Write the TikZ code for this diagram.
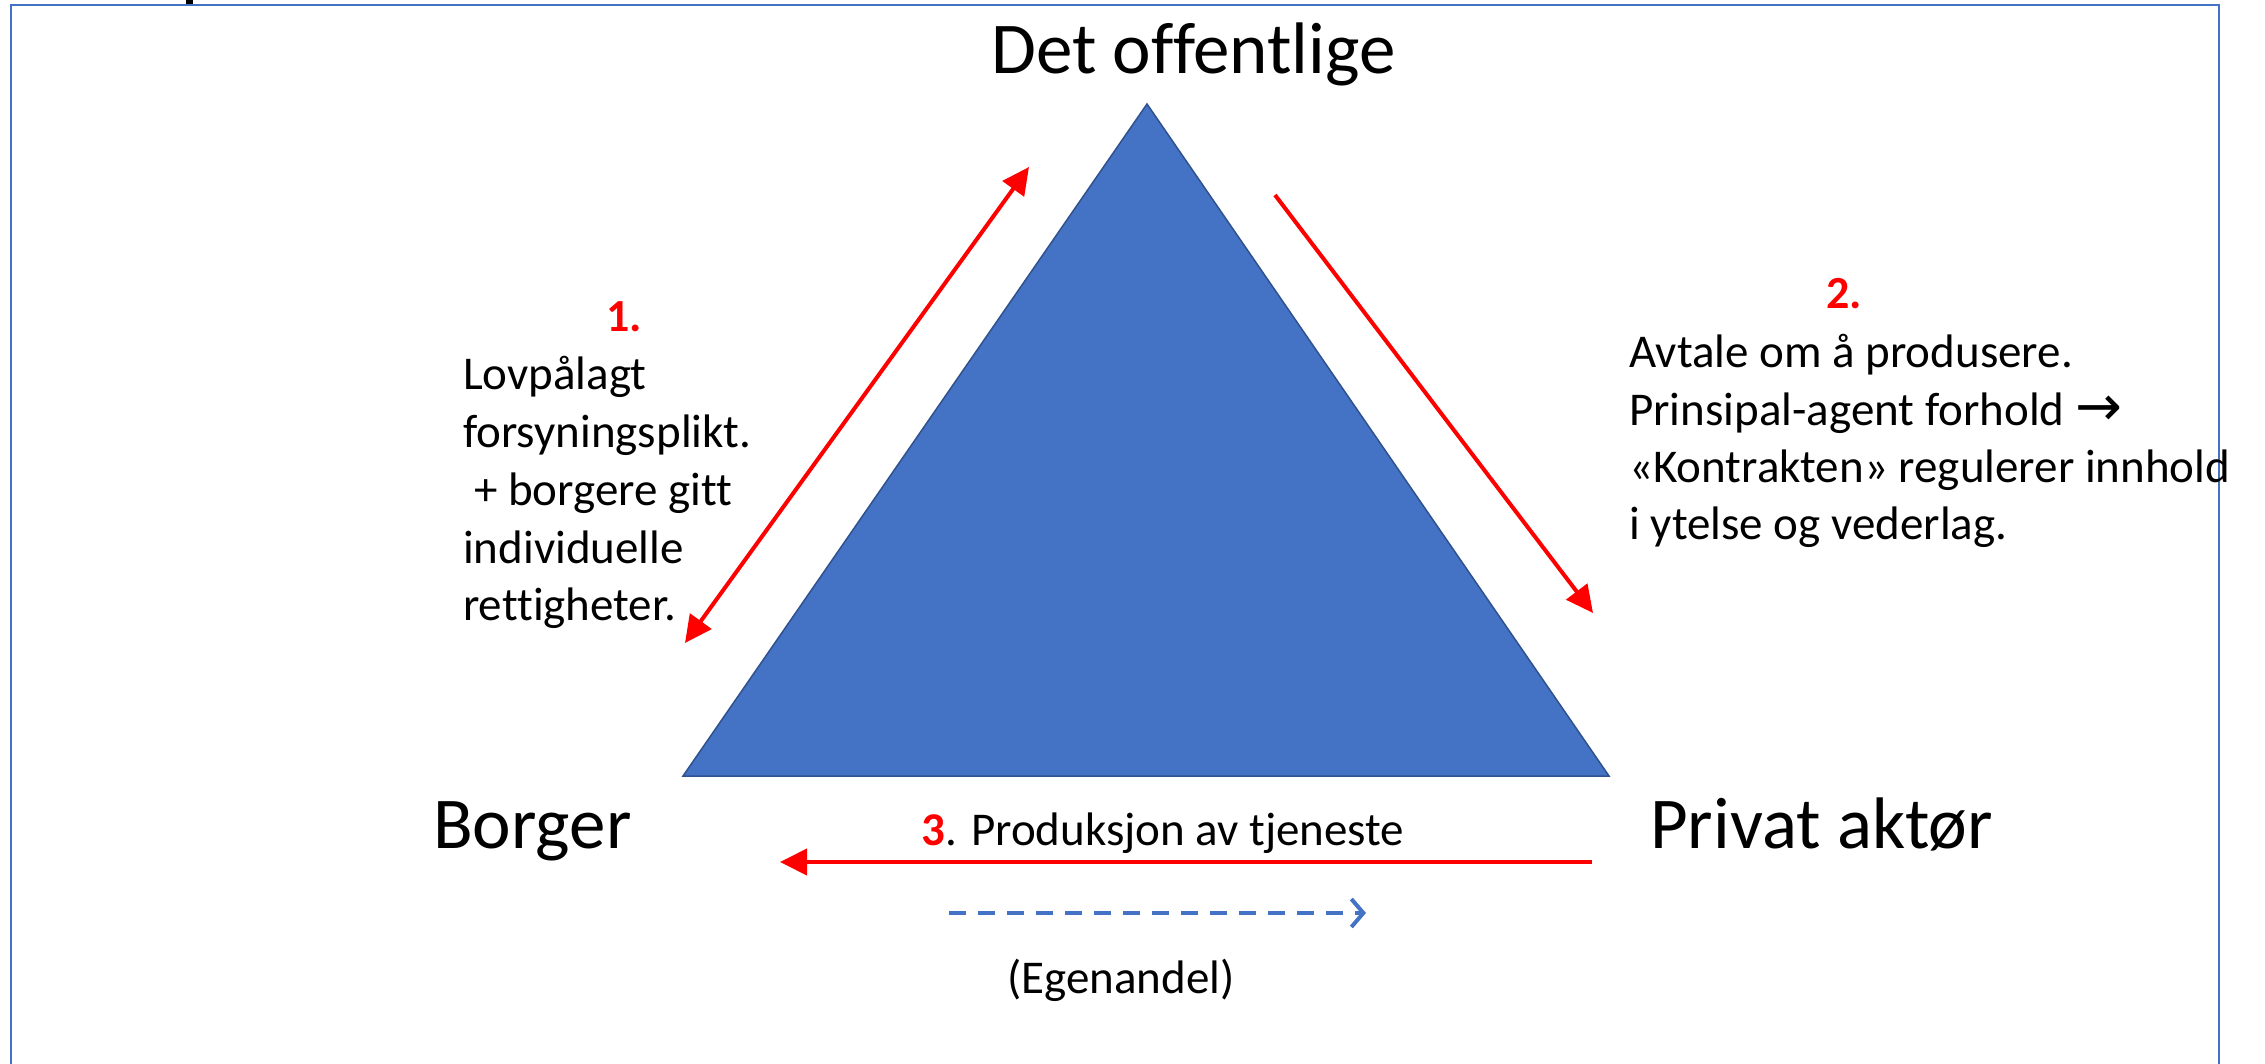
\documentclass[tikz,border=0pt]{standalone}
\usepackage{fontspec}
\setmainfont{Carlito}[Ligatures={NoCommon}]
\newfontfamily\symfont{DejaVu Sans}
\usetikzlibrary{arrows.meta}
\definecolor{accblue}{HTML}{4472C4}
\definecolor{darkblue}{HTML}{2F528F}
\definecolor{pred}{HTML}{FF0000}
\tikzset{
  big/.style={font=\fontsize{73}{88}\selectfont, inner sep=0pt, anchor=base west},
  body/.style={font=\fontsize{47}{57}\selectfont, inner sep=0pt, anchor=base west},
  num/.style={font=\fontsize{46}{57}\selectfont\bfseries, text=pred, inner sep=0pt, anchor=base},
  redtip/.tip={Triangle[length=27pt,width=26pt]},
  redarrow/.style={draw=pred, line width=4pt},
  dasharrow/.style={draw=accblue, line width=4pt, dash pattern=on 17pt off 12pt,
    -{Straight Barb[length=12pt,width=28pt]}},
  framebox/.style={draw=accblue, line width=2.5pt},
}
\begin{document}
\begin{tikzpicture}[x=1pt,y=-1pt]
\useasboundingbox (0,0) rectangle (2265,1064);
% frame
\draw[framebox] (11,1075) -- (11,5) -- (2219,5) -- (2219,1075);
\fill[black] (186,0) rectangle (193,4);
% triangle
\coordinate (apex) at (1147,104);
\coordinate (bl) at (683,776);
\coordinate (br) at (1609,776);
\filldraw[fill=accblue, draw=darkblue, line width=1.5pt] (apex) -- (br) -- (bl) -- cycle;
% corner labels
\node[big] (top) at (991,74) {Det offentlige};
\node[big] (borger) at (433,848) {Borger};
\node[big] (privat) at (1650,848) {Privat aktør};
% arrows
\coordinate (a1s) at (685,643);
\coordinate (a1e) at (1029,167);
\draw[redarrow, redtip-redtip] (a1s) -- (a1e);
\coordinate (a2s) at (1275,195);
\coordinate (a2e) at (1593,613);
\draw[redarrow, -redtip] (a2s) -- (a2e);
\coordinate (a3s) at (1592,862);
\coordinate (a3e) at (780,862);
\draw[redarrow, -redtip] (a3s) -- (a3e);
\coordinate (d1s) at (949,913);
\coordinate (d1e) at (1366,913);
\draw[dasharrow] (d1s) -- (d1e);
% left text
\node[num] (n1) at (624,332) {1.};
\node[body] (l1) at (463,390) {Lovpålagt};
\node[body] (l2) at (463,447) {forsyningsplikt.};
\node[body] (l3) at (463,505) {\hspace*{11pt}+ borgere gitt};
\node[body] (l4) at (463,563) {individuelle};
\node[body] (l5) at (463,620) {rettigheter.};
% right text
\node[num] (n2) at (1844,309) {2.};
\node[body] (r1) at (1629,368) {Avtale om å produsere.};
\node[body] (r2) at (1629,425) {Prinsipal-agent forhold {\symfont\fontsize{56}{57}\selectfont →}};
\node[body] (r3) at (1629,482) {«Kontrakten» regulerer innhold};
\node[body] (r4) at (1629,539) {i ytelse og vederlag.};
% bottom text
\node[body] (b1) at (921,845) {{\bfseries\color{pred}3}. Produksjon av tjeneste};
\node[body, anchor=base] (b2) at (1121,993) {(Egenandel)};
\end{tikzpicture}
\end{document}
